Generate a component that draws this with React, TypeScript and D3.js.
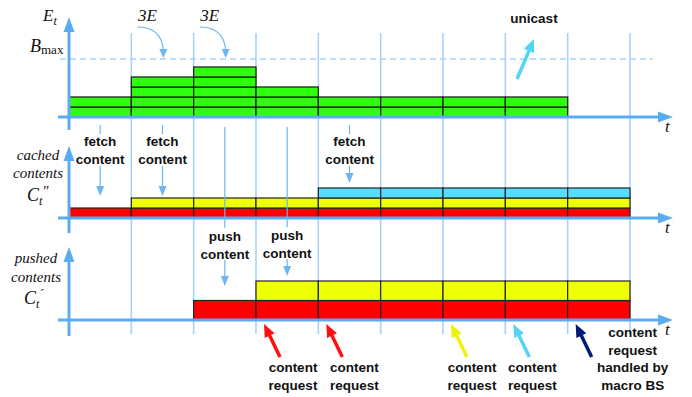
import React from 'react'
import * as d3 from 'd3'

// time slots (9 of them), data per slot
const slotCount = 9
const energyUnits = [2, 4, 5, 3, 2, 2, 2, 2, 0]
const bMax = 5.8
const cachedColors = ['#ff0000', '#eeff06', '#55ddff']
const cachedStart = [0, 1, 4]
const pushedColors = ['#ff0000', '#eeff06']
const pushedStart = [2, 3]

const fetchSlots = [0, 1, 4]
const pushSlots = [2, 3]
const requestBounds = [3, 4, 6, 7, 8]
const requestColors = ['#ff1010', '#ff1010', '#eef20a', '#55d4f5', '#001a7a']
const requestLabelDx = [37, 36, 29, 27, 65]
const requestLabels = [
  ['content', 'request'],
  ['content', 'request'],
  ['content', 'request'],
  ['content', 'request'],
  ['content', 'request', 'handled by', 'macro BS'],
]

const AX = '#5aacf2'
const GRID = '#a8d2fb'
const THIN = '#6db6f2'
const SANS = '"Liberation Sans", Arial, sans-serif'
const SERIF = '"Liberation Serif", "Times New Roman", serif'

function head(x1: number, y1: number, x2: number, y2: number, len: number, w: number) {
  const a = Math.atan2(y2 - y1, x2 - x1)
  const bx = x2 - len * Math.cos(a), by = y2 - len * Math.sin(a)
  const px = -Math.sin(a) * w / 2, py = Math.cos(a) * w / 2
  return `${x2},${y2} ${bx + px},${by + py} ${bx - px},${by - py}`
}

function Arrow({ x1, y1, x2, y2, color, sw, len, w }: any) {
  const a = Math.atan2(y2 - y1, x2 - x1)
  const ex = x2 - len * 0.8 * Math.cos(a), ey = y2 - len * 0.8 * Math.sin(a)
  return <g>
    <line x1={x1} y1={y1} x2={ex} y2={ey} stroke={color} strokeWidth={sw} />
    <polygon points={head(x1, y1, x2, y2, len, w)} fill={color} />
  </g>
}

export default function App() {
  const x = d3.scaleLinear().domain([0, slotCount]).range([69, 630])
  const yTop = d3.scaleLinear().domain([0, 10]).range([117, 17])
  const yMid = d3.scaleLinear().domain([0, 1]).range([218, 208])
  const yBot = d3.scaleLinear().domain([0, 2]).range([320, 281])
  const slots = d3.range(slotCount)
  const sw = x(1) - x(0)

  const greenRects: any[] = []
  energyUnits.forEach((n, i) => d3.range(n).forEach(k =>
    greenRects.push({ i, k })))

  const cachedRects: any[] = []
  cachedColors.forEach((c, k) => slots.filter(i => i >= cachedStart[k]).forEach(i => cachedRects.push({ i, k, c })))
  const pushedRects: any[] = []
  pushedColors.forEach((c, k) => slots.filter(i => i >= pushedStart[k]).forEach(i => pushedRects.push({ i, k, c })))

  const boldText = { fontFamily: SANS, fontWeight: 700, fontSize: 13.5, fill: '#111', textAnchor: 'middle' as const }
  const serifIt = { fontFamily: SERIF, fontStyle: 'italic', fill: '#111' }

  return (
    <svg width={692} height={397} style={{ position: 'absolute', left: 0, top: 0, background: '#fff' }}>
      {/* vertical slot lines */}
      {d3.range(1, slotCount + 1).map(b =>
        <line key={b} x1={x(b)} x2={x(b)} y1={33} y2={334} stroke={GRID} strokeWidth={1.6} />)}

      {/* Bmax */}
      <line x1={60} x2={653} y1={yTop(bMax)} y2={yTop(bMax)} stroke={GRID} strokeWidth={1.3} strokeDasharray="6,4" />

      {/* energy bars */}
      {greenRects.map((d, j) =>
        <rect key={j} x={x(d.i)} width={sw} y={yTop(d.k + 1)} height={yTop(0) - yTop(1)}
          fill="#2eff0c" stroke="#222" strokeWidth={1.3} />)}

      {/* cached bars */}
      {cachedRects.map((d, j) =>
        <rect key={j} x={x(d.i)} width={sw} y={yMid(d.k + 1)} height={yMid(0) - yMid(1)}
          fill={d.c} stroke="#222" strokeWidth={1.2} />)}

      {/* pushed bars */}
      {pushedRects.map((d, j) =>
        <rect key={j} x={x(d.i)} width={sw} y={yBot(d.k + 1)} height={yBot(0) - yBot(1)}
          fill={d.c} stroke="#222" strokeWidth={1.2} />)}

      {/* axes */}
      {[[yTop(0), 130, 17], [yMid(0), 233, 146], [yBot(0), 336, 247]].map(([y0, yb, yt], j) =>
        <g key={j}>
          <Arrow x1={58} y1={y0} x2={673} y2={y0} color={AX} sw={3} len={15} w={11} />
          <Arrow x1={x(0)} y1={yb} x2={x(0)} y2={yt} color={AX} sw={3} len={15} w={11} />
          <text x={665} y={y0 + 15} fontSize={17} {...serifIt}>t</text>
        </g>)}

      {/* top labels */}
      <text x={43} y={21} fontSize={17} {...serifIt}>E<tspan fontSize={12} dy={4}>t</tspan></text>
      <text x={30} y={52} fontSize={18} {...serifIt}>B<tspan fontSize={13} fontStyle="normal" dy={2}>max</tspan></text>
      {[1, 2].map(b =>
        <g key={b}>
          <text x={x(b) + 16} y={21} fontSize={17} textAnchor="middle" {...serifIt}>3E</text>
          <path d={`M${x(b) + 6},${27} Q${x(b) + 30},${27} ${x(b) + 32},${50}`} fill="none" stroke={THIN} strokeWidth={1.2} />
          <polygon points={head(x(b) + 32, 44, x(b) + 32, 58, 9, 8)} fill={THIN} />
        </g>)}
      <text x={534} y={23} {...boldText}>unicast</text>
      <Arrow x1={517} y1={79} x2={534} y2={39} color="#4fd6f5" sw={3.5} len={13} w={11} />

      {/* fetch arrows */}
      {fetchSlots.map(s =>
        <g key={s}>
          <Arrow x1={x(s + 0.5)} y1={125} x2={x(s + 0.5)} y2={fetchSlots.indexOf(s) < 2 ? 196 : 183} color={THIN} sw={1.2} len={10} w={8} />
          <rect x={x(s + 0.5) - 25} y={134} width={50} height={32} fill="#fff" />
          <text x={x(s + 0.5)} y={146} {...boldText}>fetch</text>
          <text x={x(s + 0.5)} y={164} {...boldText}>content</text>
        </g>)}

      {/* push arrows */}
      {pushSlots.map((s, j) =>
        <g key={s}>
          <Arrow x1={x(s + 0.5)} y1={127} x2={x(s + 0.5)} y2={j === 0 ? 286 : 276} color={THIN} sw={1.2} len={10} w={8} />
          <rect x={x(s + 0.5) - 25} y={228 - j} width={50} height={32} fill="#fff" />
          <text x={x(s + 0.5)} y={241 - j} {...boldText}>push</text>
          <text x={x(s + 0.5)} y={259 - j} {...boldText}>content</text>
        </g>)}

      {/* left labels */}
      <text textAnchor="middle" fontSize={15} {...serifIt}>
        <tspan x={38} y={160}>cached</tspan>
        <tspan x={38} y={178}>contents</tspan>
      </text>
      <text x={27} y={201} fontSize={18} {...serifIt}>C<tspan fontSize={12} dy={4}>t</tspan><tspan fontSize={15} dy={-9}>″</tspan></text>
      <text textAnchor="middle" fontSize={15} {...serifIt}>
        <tspan x={36} y={263}>pushed</tspan>
        <tspan x={36} y={282}>contents</tspan>
      </text>
      <text x={24} y={304} fontSize={18} {...serifIt}>C<tspan fontSize={12} dy={4}>t</tspan><tspan fontSize={13} dy={-10}>´</tspan></text>

      {/* content requests */}
      {requestBounds.map((b, j) =>
        <g key={b}>
          <Arrow x1={x(b) + 24} y1={357} x2={x(b) + 8} y2={324} color={requestColors[j]} sw={3.5} len={13} w={11} />
          {requestLabels[j].map((t, k) =>
            <text key={k} x={x(b) + requestLabelDx[j]} y={j === 4 ? 337 + k * 17.7 : 372 + k * 17.5} {...boldText}>{t}</text>)}
        </g>)}
    </svg>
  )
}
